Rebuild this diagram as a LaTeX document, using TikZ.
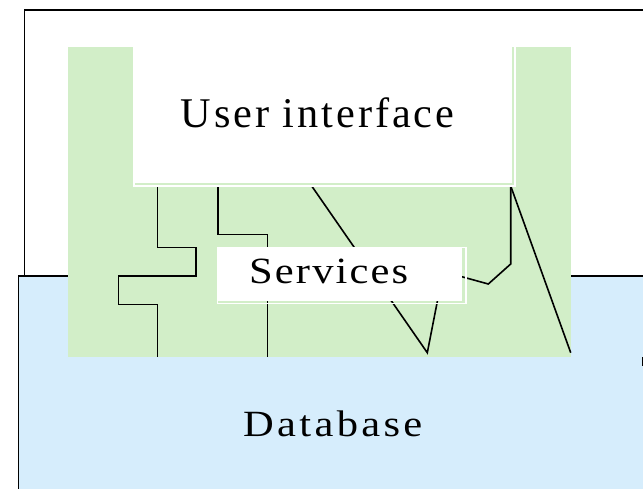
\documentclass[tikz,border=0pt]{standalone}
\usepackage{fontspec}
\usepackage{graphicx}
\setmainfont{Liberation Serif}
\newfontfamily\uifont[LetterSpace=7]{Liberation Serif}
\newfontfamily\svcfont[LetterSpace=5]{Liberation Serif}
\newfontfamily\dbfont[LetterSpace=7.8]{Liberation Serif}
\definecolor{dbblue}{HTML}{D6EDFC}
\definecolor{svcgreen}{HTML}{D2EEC8}
\newcommand{\wideword}[1]{\scalebox{1.15}[1]{#1}}
\begin{document}
\begin{tikzpicture}[x=1pt,y=-1pt,
  frame/.style={draw=black,line width=1.8pt},
  panel/.style={inner sep=0pt,outer sep=0pt,anchor=north west},
  wire/.style={draw=black,line width=1.6pt,line join=miter},
  halo/.style={draw=white,line width=1.4pt},
  caption/.style={inner sep=0pt,anchor=base west,text=black}]
\useasboundingbox (0,0) rectangle (643,488);
\clip (0,0) rectangle (643,488);

% application shell and database layer
\node[panel,frame,fill=white,minimum width=640pt,minimum height=300pt] (shell) at (24.5,10) {};
\node[panel,frame,fill=dbblue,minimum width=640pt,minimum height=230pt] (db) at (18.5,275.7) {};
% services layer background
\node[panel,fill=svcgreen,minimum width=502.5pt,minimum height=310pt] (layer) at (68,47) {};

% wiring between the layers
\coordinate (a0) at (157.3,186);   \coordinate (a1) at (196,247.3);
\coordinate (a2) at (118.3,276);   \coordinate (a3) at (157.3,304.3);
\coordinate (a4) at (157.3,356.7);
\coordinate (b0) at (217.7,186);   \coordinate (b1) at (267.3,234.3);
\coordinate (b2) at (267.3,356.7);
\coordinate (c0) at (311.7,186);   \coordinate (c1) at (427.3,352.7);
\coordinate (c2) at (437.8,299);
\coordinate (d0) at (510.7,186);   \coordinate (d1) at (510.7,264);
\coordinate (d2) at (488.3,284);   \coordinate (d3) at (461,276.5);
\coordinate (e1) at (570.7,352.7);
\coordinate (f0) at (642.5,357);   \coordinate (f1) at (642.5,366);

\draw[wire] (a0) |- (a1) |- (a2) |- (a3) -- (a4);
\draw[wire] (b0) |- (b1) -- (b2);
\draw[wire] (c0) -- (c1) -- (c2);
\draw[wire] (d0) -- (d1) -- (d2) -- (d3);
\draw[wire] (d0) -- (e1);
\draw[black,line width=2pt] (f0) -- (f1);

% user interface box with its offset white rim
\node[panel,fill=white,minimum width=377.5pt,minimum height=153pt] (ui) at (134,30) {};
\draw[halo] (134,30) rectangle (515,186);
% services box with its offset white rim
\node[panel,fill=white,minimum width=244.2pt,minimum height=53.7pt] (svc) at (217.3,247.3) {};
\draw[halo] (217.3,247.3) rectangle (466,303.5);

% captions
\node[caption,font={\uifont\fontsize{42.3}{50}\selectfont}] (uitext) at (180.3,127.7) {User interface};
\node[caption,font={\svcfont\fontsize{37}{44}\selectfont}] (svctext) at (249,283.5) {\wideword{Services}};
\node[caption,font={\dbfont\fontsize{37}{44}\selectfont}] (dbtext) at (243,436.5) {\wideword{Database}};
\end{tikzpicture}
\end{document}
